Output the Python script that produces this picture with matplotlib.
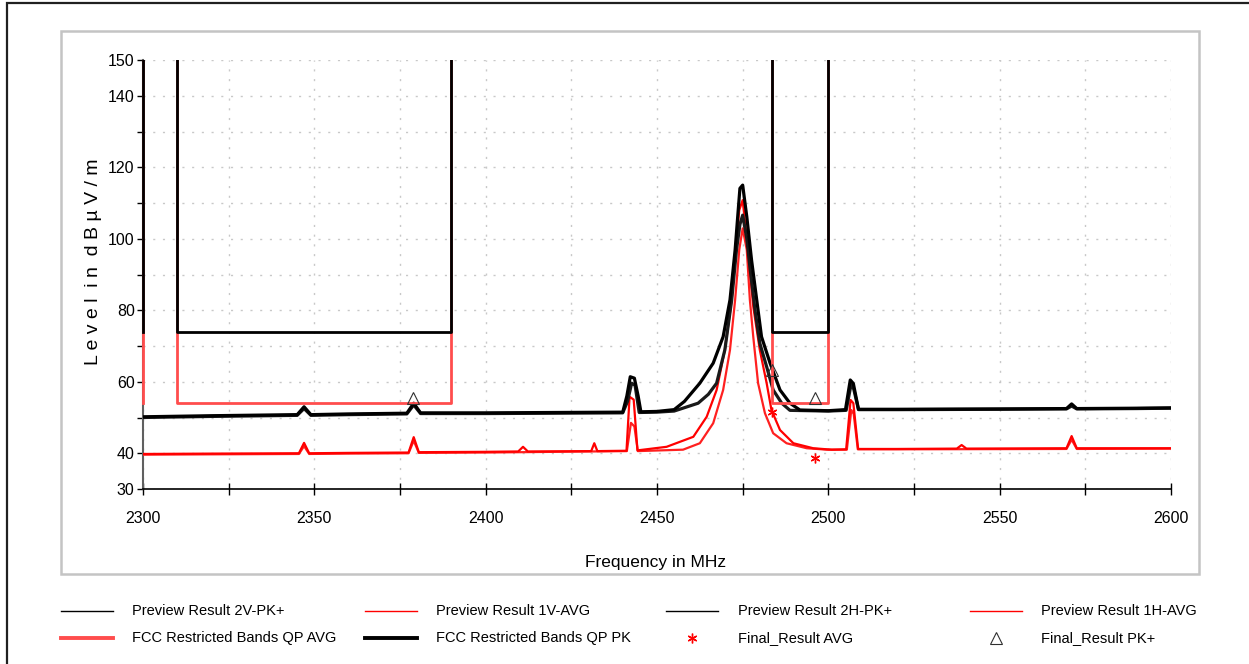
import matplotlib
matplotlib.use('Agg')
import matplotlib.pyplot as plt
from matplotlib.lines import Line2D
from matplotlib.patches import Rectangle
from matplotlib.transforms import Bbox, TransformedBbox

# Preview Result 2V-PK+ (black, wider main peak)
pk2v_freq = [2300, 2320, 2345, 2347, 2349, 2360, 2377, 2379, 2381, 2400, 2420, 2440,
             2441.2, 2442.2, 2443.4, 2444.5, 2445.3, 2450, 2455, 2458, 2462.5, 2466.4,
             2469.3, 2471.3, 2472.8, 2473.7, 2474.2, 2475, 2476.2, 2477.6, 2479.1, 2480.5,
             2483, 2485.9, 2488.8, 2491.7, 2500, 2505.0, 2506.4, 2507.3, 2508.8, 2520,
             2550, 2569.5, 2571, 2572.5, 2590, 2600]
pk2v_level = [50.2, 50.5, 50.8, 53.0, 50.8, 51.0, 51.2, 54.0, 51.3, 51.3, 51.4, 51.5,
              56.0, 61.4, 61.0, 56.0, 51.6, 51.7, 52.2, 54.5, 59.6, 65.2,
              72.6, 82.9, 96.9, 108.0, 114.1, 115.0, 106.2, 94.0, 82.9, 72.6,
              65.2, 57.7, 54.0, 52.1, 51.9, 52.2, 60.5, 59.5, 52.3, 52.3,
              52.4, 52.5, 53.8, 52.5, 52.6, 52.7]

# Preview Result 2H-PK+ (black, narrower main peak)
pk2h_freq = [2300, 2320, 2345, 2347, 2349, 2360, 2377, 2379, 2381, 2400, 2420, 2440,
             2441.4, 2442.6, 2443.6, 2444.8, 2450, 2455, 2462, 2465, 2467.4, 2469.8,
             2471.8, 2473.2, 2474.2, 2475, 2476.2, 2477.1, 2478.6, 2480, 2482, 2483.9,
             2486.4, 2488.8, 2500, 2505.2, 2506.6, 2507.4, 2508.8, 2520, 2550, 2569.5,
             2571, 2572.5, 2590, 2600]
pk2h_level = [50.0, 50.3, 50.6, 52.5, 50.6, 50.8, 51.0, 53.5, 51.1, 51.1, 51.2, 51.3,
              54.5, 59.6, 59.0, 51.4, 51.5, 51.8, 54.0, 56.5, 59.6, 68.9,
              82.9, 96.9, 104.0, 106.6, 100.0, 92.2, 80.0, 70.8, 64.2, 57.7,
              54.0, 52.0, 51.8, 52.0, 59.1, 58.0, 52.2, 52.2, 52.3, 52.4,
              53.2, 52.4, 52.5, 52.6]

# Preview Result 1V-AVG (red, wider main peak)
avg1v_freq = [2300, 2320, 2345.5, 2347, 2348.5, 2360, 2377.5, 2379, 2380.5, 2400,
              2409.5, 2410.9, 2412.3, 2430.8, 2431.7, 2432.6, 2441.1, 2442.0, 2443.2,
              2444.3, 2452.8, 2460.6, 2464.5, 2467.4, 2469.8, 2471.8, 2473.0, 2474.0,
              2475, 2476.2, 2477.0, 2478.1, 2480, 2482, 2483.4, 2485.9, 2489.8, 2495.6,
              2501, 2505.2, 2506.5, 2507.3, 2508.7, 2520, 2537.5, 2538.9, 2540.3, 2569.5,
              2571, 2572.5, 2590, 2600]
avg1v_level = [39.8, 39.9, 40.0, 42.9, 40.0, 40.1, 40.2, 44.5, 40.3, 40.4,
               40.5, 41.8, 40.5, 40.6, 42.8, 40.6, 40.7, 55.8, 55.0,
               40.8, 41.8, 44.6, 50.2, 57.7, 68.9, 82.9, 96.9, 108.0,
               110.8, 100.0, 92.0, 81.0, 68.9, 59.6, 52.1, 46.5, 42.8, 41.4,
               41.0, 41.1, 54.9, 54.0, 41.2, 41.2, 41.3, 42.3, 41.3, 41.4,
               44.8, 41.4, 41.4, 41.4]

# Preview Result 1H-AVG (red, narrower main peak)
avg1h_freq = [2300, 2320, 2345.5, 2347, 2348.5, 2360, 2377.5, 2379, 2380.5, 2400,
              2441.2, 2442.4, 2443.4, 2444.4, 2457.6, 2462.5, 2466.4, 2469.3, 2471.3,
              2472.8, 2474.0, 2475, 2476.2, 2477.1, 2478.1, 2479.5, 2481.5, 2483.9,
              2487.8, 2493.7, 2499.6, 2505.4, 2506.7, 2507.4, 2508.6, 2520, 2569.5, 2571,
              2572.5, 2600]
avg1h_level = [39.6, 39.7, 39.8, 42.0, 39.8, 39.9, 40.0, 43.5, 40.1, 40.2,
               40.6, 48.5, 47.5, 40.6, 41.0, 42.8, 48.4, 57.7, 68.9,
               82.9, 96.9, 102.9, 96.9, 82.9, 72.5, 59.6, 51.2, 45.6,
               42.8, 41.4, 41.0, 41.0, 52.1, 51.0, 41.1, 41.1, 41.2, 43.8,
               41.2, 41.3]

# FCC restricted band limits
limit_freq = [2300, 2300, 2310, 2310, 2390, 2390, 2483.5, 2483.5, 2500, 2500, 2600]
limit_pk = [74, 200, 200, 74, 74, 200, 200, 74, 74, 200, 200]
limit_avg = [54, 200, 200, 54, 54, 200, 200, 54, 54, 200, 200]

# Final results
final_avg_freq = [2483.5, 2496.1]
final_avg_level = [51.6, 38.7]
final_pk_freq = [2378.7, 2483.5, 2496.1]
final_pk_level = [55.5, 63.3, 55.4]

y_ticks = [30, 40, 50, 60, 70, 80, 90, 100, 110, 120, 130, 140, 150]
y_tick_labels = ["30", "40", "", "60", "", "80", "", "100", "", "120", "", "140", "150"]
x_ticks = [2300, 2325, 2350, 2375, 2400, 2425, 2450, 2475, 2500, 2525, 2550, 2575, 2600]
x_tick_labels = ["2300", "", "2350", "", "2400", "", "2450", "", "2500", "", "2550", "", "2600"]

plt.rcParams['font.family'] = ['Liberation Sans', 'DejaVu Sans']

W, H = 1249, 664
fig = plt.figure(figsize=(W / 100, H / 100), dpi=100)

# outer frame and inner panel
fig.add_artist(Rectangle((7 / W, -0.1), 1.2, 1 - 3 / H + 0.1, transform=fig.transFigure,
                         fill=False, edgecolor='#202020', linewidth=1.6))
fig.add_artist(Rectangle((61 / W, 1 - 574 / H), (1199 - 61) / W, (574 - 31) / H,
                         transform=fig.transFigure, fill=False, edgecolor='#c4c4c4',
                         linewidth=1.8))

ax = fig.add_axes([143 / W, 1 - 489 / H, (1171 - 143) / W, (489 - 60) / H])
ax.set_xlim(2300, 2600)
ax.set_ylim(30, 150)

ax.plot(avg1h_freq, avg1h_level, color='#ff2020', linewidth=1.6, zorder=3)
ax.plot(avg1v_freq, avg1v_level, color='#ff0000', linewidth=1.6, zorder=3)
ax.plot(pk2h_freq, pk2h_level, color='#1a1a1a', linewidth=2.3, zorder=3)
ax.plot(pk2v_freq, pk2v_level, color='#000000', linewidth=2.3, zorder=3)

# limit lines clipped at the top of the plot but not at the left edge
clip = TransformedBbox(Bbox([[2290, 0], [2610, 150]]), ax.transData)
la, = ax.plot(limit_freq, limit_avg, color='#ff4d4d', linewidth=2.0, zorder=4)
lp, = ax.plot(limit_freq, limit_pk, color='#000000', linewidth=2.0, zorder=5)
for ln in (la, lp):
    ln.set_clip_box(clip)

ax.plot(final_avg_freq, final_avg_level, linestyle='none', marker=(6, 2, 0),
        markersize=7, color='#ff0000', markeredgewidth=1.0, zorder=6)
ax.plot(final_pk_freq, final_pk_level, linestyle='none', marker='^', markersize=8,
        markerfacecolor='none', markeredgecolor='#303030', markeredgewidth=0.8, zorder=6)

ax.set_yticks(y_ticks)
ax.set_yticklabels(y_tick_labels, fontsize=11.5)
ax.set_xticks(x_ticks)
ax.set_xticklabels(x_tick_labels, fontsize=11.5)
ax.tick_params(axis='y', direction='out', length=4, width=1, pad=2, color='#000000')
ax.tick_params(axis='x', direction='inout', length=8, width=1, pad=12)
ax.grid(True, color='#c8c8c8', linestyle=(0, (1.5, 5.5)), linewidth=1.0)
ax.set_axisbelow(True)
for s in ['top', 'right']:
    ax.spines[s].set_visible(False)
ax.spines['left'].set_color('#606060')
ax.spines['left'].set_linewidth(1.5)
ax.spines['bottom'].set_linewidth(1.2)

fig.text(656 / W, 1 - 562 / H, "Frequency in MHz", ha='center', va='center', fontsize=12.5)
fig.text(93 / W, 1 - 262 / H, "L e v e l  i n  d B µ V / m", ha='center', va='center',
         rotation=90, fontsize=14)

# legend laid out like the original
legend_items = [
    ("Preview Result 2V-PK+", dict(color='#000000', linewidth=1.0)),
    ("Preview Result 1V-AVG", dict(color='#ff0000', linewidth=1.0)),
    ("Preview Result 2H-PK+", dict(color='#000000', linewidth=1.0)),
    ("Preview Result 1H-AVG", dict(color='#ff0000', linewidth=1.0)),
    ("FCC Restricted Bands QP AVG", dict(color='#ff4d4d', linewidth=2.8)),
    ("FCC Restricted Bands QP PK", dict(color='#000000', linewidth=2.8)),
    ("Final_Result AVG", dict(linestyle='none', marker=(6, 2, 0), markersize=7,
                              color='#ff0000', markeredgewidth=1.0)),
    ("Final_Result PK+", dict(linestyle='none', marker='^', markersize=8,
                              markerfacecolor='none', markeredgecolor='#303030',
                              markeredgewidth=0.8)),
]
handle_x = [61, 365, 666, 970]
text_x = [132, 436, 738, 1041]
row_y = [611, 638]
for i, (label, style) in enumerate(legend_items):
    col, row = i % 4, i // 4
    y = 1 - row_y[row] / H
    x0, x1 = handle_x[col] / W, (handle_x[col] + 52) / W
    if style.get('linestyle') == 'none':
        fig.add_artist(Line2D([(x0 + x1) / 2], [y], transform=fig.transFigure, **style))
    else:
        fig.add_artist(Line2D([x0, x1], [y, y], transform=fig.transFigure, **style))
    fig.text(text_x[col] / W, y, label, ha='left', va='center', fontsize=10.5)

fig.savefig('out.png', dpi=100)
